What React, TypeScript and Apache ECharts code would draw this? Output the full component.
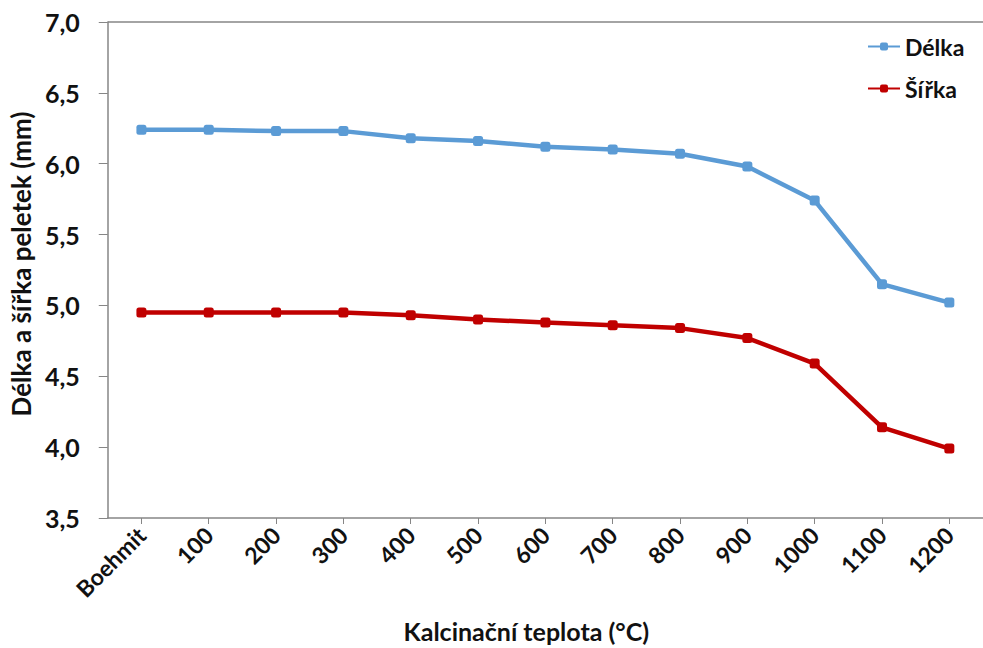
import React, { useEffect, useRef } from "react";
import * as echarts from "echarts";

const categories = ["Boehmit", "100", "200", "300", "400", "500", "600", "700", "800", "900", "1000", "1100", "1200"];
const delka = [6.24, 6.24, 6.23, 6.23, 6.18, 6.16, 6.12, 6.1, 6.07, 5.98, 5.74, 5.15, 5.02];
const sirka = [4.95, 4.95, 4.95, 4.95, 4.93, 4.9, 4.88, 4.86, 4.84, 4.77, 4.59, 4.14, 3.99];
const yMin = 3.5;
const yMax = 7.0;
const yStep = 0.5;

const FONT = "Lato, 'Open Sans', sans-serif";

export default function App() {
  const ref = useRef<HTMLDivElement>(null);
  useEffect(() => {
    if (!ref.current) return;
    const chart = echarts.init(ref.current, undefined, { renderer: "svg" });
    chart.setOption({
      animation: false,
      backgroundColor: "#ffffff",
      textStyle: { fontFamily: FONT },
      grid: { left: 107, right: -3, top: 22, bottom: 126, containLabel: false },
      legend: {
        orient: "vertical",
        left: 862,
        top: 30,
        itemGap: 19,
        itemWidth: 32,
        itemHeight: 10,
        textStyle: { fontFamily: FONT, fontSize: 23, fontWeight: "bold", color: "#111" },
        data: ["Délka", "Šířka"],
      },
      xAxis: {
        type: "category",
        data: categories,
        boundaryGap: true,
        axisLine: { lineStyle: { color: "#868686", width: 1.5 } },
        axisTick: { show: true, alignWithLabel: true, length: 6, lineStyle: { color: "#868686" } },
        axisLabel: {
          rotate: 45,
          interval: 0,
          margin: 13,
          fontFamily: FONT,
          fontSize: 23,
          fontWeight: "bold",
          color: "#111",
        },
        name: "Kalcinační teplota (°C)",
        nameLocation: "middle",
        nameGap: 100,
        nameTextStyle: { fontFamily: FONT, fontSize: 25, fontWeight: "bold", color: "#111", padding: [0, 38, 0, 0] },
      },
      yAxis: {
        type: "value",
        min: yMin,
        max: yMax,
        interval: yStep,
        axisLine: { show: true, lineStyle: { color: "#868686", width: 1.5 } },
        axisTick: { show: true, length: 9, lineStyle: { color: "#868686" } },
        splitLine: { show: false },
        axisLabel: {
          margin: 28,
          fontFamily: FONT,
          fontSize: 25,
          fontWeight: "bold",
          color: "#111",
          formatter: (v: number) => v.toFixed(1).replace(".", ","),
        },
        name: "Délka a šířka peletek (mm)",
        nameLocation: "middle",
        nameGap: 65,
        nameTextStyle: { fontFamily: FONT, fontSize: 26, fontWeight: "bold", color: "#111", padding: [0, 0, 0, 12] },
      },
      series: [
        {
          name: "Délka",
          type: "line",
          data: delka,
          color: "#5B9BD5",
          lineStyle: { width: 4.5, color: "#5B9BD5" },
          symbol: "roundRect",
          symbolSize: 10,
          itemStyle: { color: "#5B9BD5" },
          markLine: {
            silent: true,
            symbol: "none",
            label: { show: false },
            lineStyle: { color: "#868686", width: 1.5, type: "solid" },
            data: [{ yAxis: yMax }],
          },
        },
        {
          name: "Šířka",
          type: "line",
          data: sirka,
          color: "#C00000",
          lineStyle: { width: 4.5, color: "#C00000" },
          symbol: "roundRect",
          symbolSize: 10,
          itemStyle: { color: "#C00000" },
        },
      ],
    });
    return () => chart.dispose();
  }, []);
  return (
    <div
      ref={ref}
      style={{ position: "fixed", left: 0, top: 0, width: 983, height: 648, background: "#fff" }}
    />
  );
}
